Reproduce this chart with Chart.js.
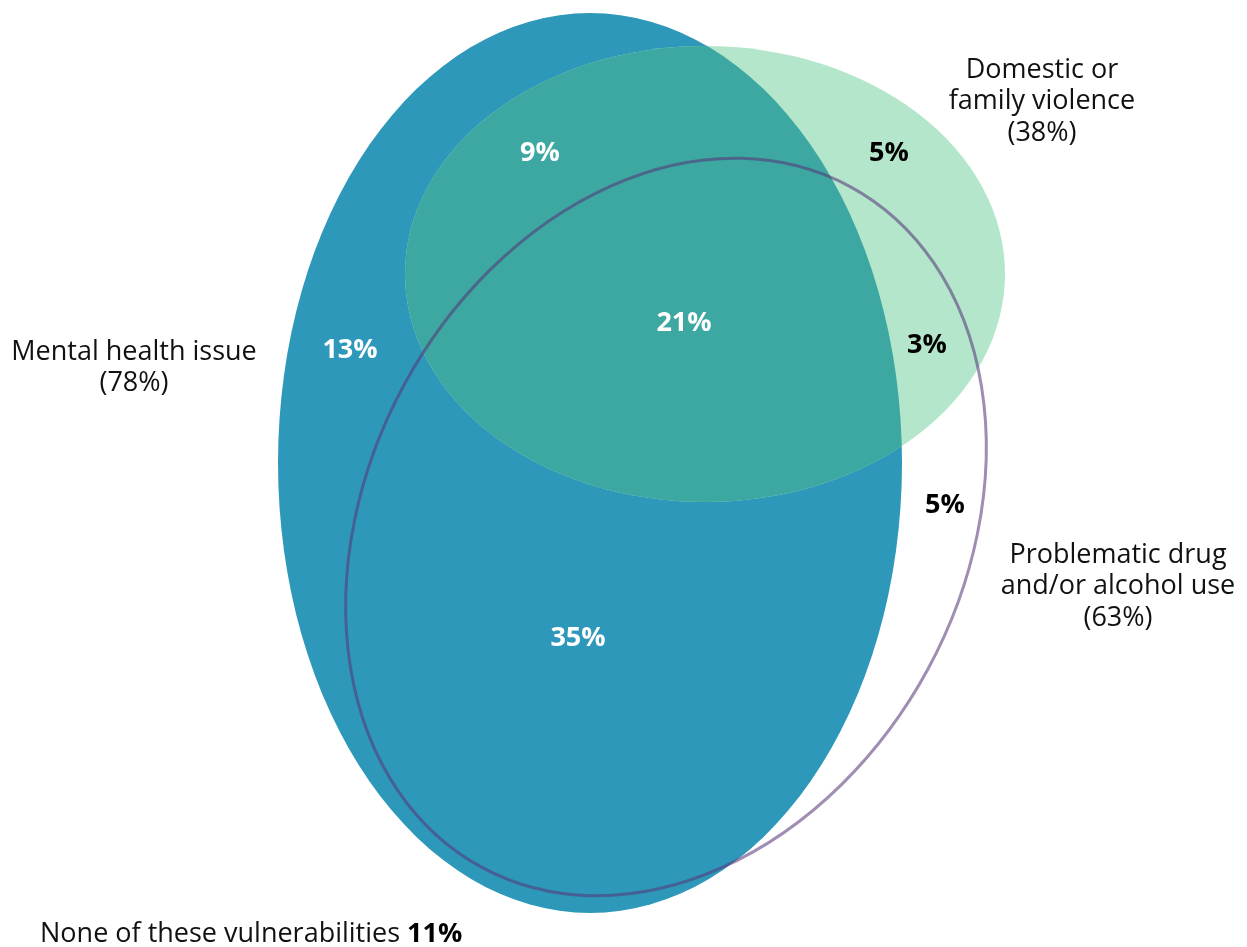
<!DOCTYPE html>
<html>
<head>
<meta charset="utf-8">
<script src="https://cdn.jsdelivr.net/npm/chart.js@4/dist/chart.umd.min.js"></script>
<style>
  html, body { margin: 0; padding: 0; background: #ffffff; }
  #wrap { width: 1247px; height: 947px; }
</style>
</head>
<body>
<div id="wrap"><canvas id="c" width="1247" height="947"></canvas></div>
<script>
// ---- data ----
const setNames = ['Mental health issue', 'Domestic or family violence', 'Problematic drug and/or alcohol use'];
const setTotals = [78, 38, 63];
const segmentNames = ['MH only', 'MH+DFV', 'DFV only', 'MH+DFV+AOD', 'DFV+AOD', 'AOD only', 'MH+AOD'];
const segmentValues = [13, 9, 5, 21, 3, 5, 35];
const noneLabel = 'None of these vulnerabilities';
const noneValue = 11;

// ---- layout (data units of the hidden axes) ----
const ellipses = [
  { cx: 590, cy: 463, rx: 312, ry: 450, rot: 0 },    // Mental health
  { cx: 705, cy: 274, rx: 300, ry: 228, rot: 0 },    // DFV
  { cx: 666, cy: 527, rx: 298, ry: 387, rot: 28.4 }  // AOD
];
const segmentPos = [[350, 350], [540, 153], [889, 153], [684, 323], [927, 345], [945, 505], [578, 638]];
const segmentDark = [false, false, true, false, true, true, false];
const setLabelPos = [[134, 352], [1042, 70], [1118, 555]];
const setLabelLines = [['Mental health issue'], ['Domestic or', 'family violence'], ['Problematic drug', 'and/or alcohol use']];
const nonePos = [40, 934];

const FONT = '"Open Sans", "Noto Sans", sans-serif';
const FS = 27;

const vennPlugin = {
  id: 'venn',
  beforeDatasetsDraw(chart) {
    const ctx = chart.ctx, xs = chart.scales.x, ys = chart.scales.y;
    const px = v => xs.getPixelForValue(v), py = v => ys.getPixelForValue(v);
    const path = (e) => {
      const cx = px(e.cx), cy = py(e.cy);
      const rx = Math.abs(px(e.cx + e.rx) - cx), ry = Math.abs(py(e.cy + e.ry) - cy);
      ctx.beginPath();
      ctx.ellipse(cx, cy, rx, ry, e.rot * Math.PI / 180, 0, Math.PI * 2);
    };
    ctx.save();
    path(ellipses[0]); ctx.fillStyle = '#2e98ba'; ctx.fill();
    path(ellipses[1]); ctx.fillStyle = '#b4e6cb'; ctx.fill();
    ctx.save();
    path(ellipses[0]); ctx.clip();
    path(ellipses[1]); ctx.fillStyle = '#3da8a2'; ctx.fill();
    ctx.restore();
    path(ellipses[2]);
    ctx.lineWidth = 3;
    ctx.strokeStyle = 'rgba(86, 52, 120, 0.56)';
    ctx.stroke();
    ctx.restore();
  },
  afterDatasetsDraw(chart) {
    const ctx = chart.ctx, xs = chart.scales.x, ys = chart.scales.y;
    const px = v => xs.getPixelForValue(v), py = v => ys.getPixelForValue(v);
    ctx.save();
    ctx.textBaseline = 'middle';
    ctx.textAlign = 'center';
    const meta = chart.getDatasetMeta(0);
    meta.data.forEach((pt, i) => {
      ctx.font = 'bold ' + FS + 'px ' + FONT;
      ctx.fillStyle = segmentDark[i] ? '#000000' : '#ffffff';
      ctx.fillText(segmentValues[i] + '%', pt.x, pt.y);
    });
    ctx.font = FS + 'px ' + FONT;
    ctx.fillStyle = '#111111';
    setLabelPos.forEach((p, i) => {
      const lines = setLabelLines[i].concat(['(' + setTotals[i] + '%)']);
      lines.forEach((l, j) => ctx.fillText(l, px(p[0]), py(p[1]) + j * 31.5));
    });
    ctx.textAlign = 'left';
    const nx = px(nonePos[0]), ny = py(nonePos[1]);
    ctx.font = FS + 'px ' + FONT;
    const t = noneLabel + ' ';
    ctx.fillText(t, nx, ny);
    const w = ctx.measureText(t).width;
    ctx.font = 'bold ' + FS + 'px ' + FONT;
    ctx.fillStyle = '#000000';
    ctx.fillText(noneValue + '%', nx + w, ny);
    ctx.restore();
  }
};

new Chart(document.getElementById('c'), {
  type: 'scatter',
  data: {
    datasets: [{
      label: 'Segments',
      data: segmentPos.map((p, i) => ({ x: p[0], y: p[1], v: segmentValues[i] })),
      pointRadius: 0,
      pointHoverRadius: 0
    }]
  },
  options: {
    responsive: false,
    animation: false,
    events: [],
    layout: { padding: 0 },
    plugins: { legend: { display: false }, tooltip: { enabled: false } },
    scales: {
      x: { type: 'linear', min: 0, max: 1247, display: false },
      y: { type: 'linear', min: 0, max: 947, reverse: true, display: false }
    }
  },
  plugins: [vennPlugin]
});
</script>
</body>
</html>
